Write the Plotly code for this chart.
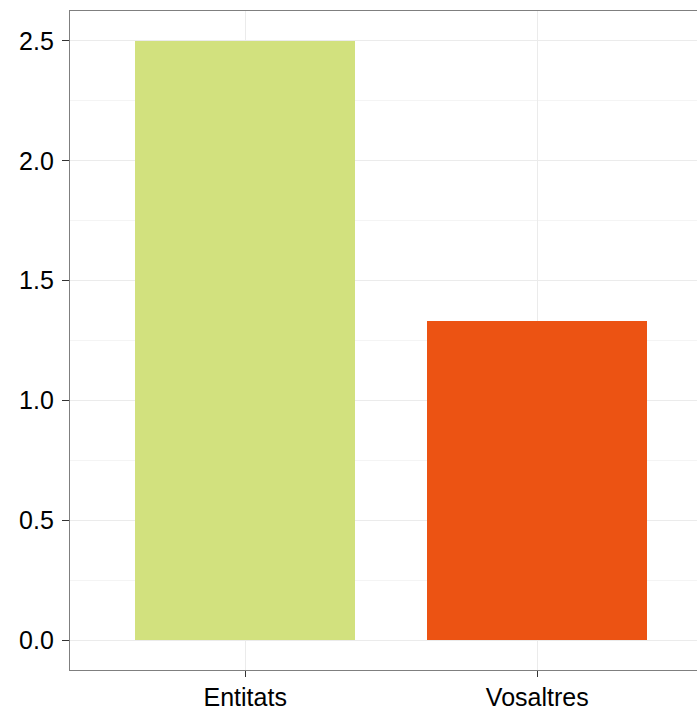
import plotly.graph_objects as go

categories = ["Entitats", "Vosaltres"]
values = [2.5, 1.3333]
bar_colors = ["#d2e17e", "#ec5313"]
y_tickvals = [0.0, 0.5, 1.0, 1.5, 2.0, 2.5]
y_ticktext = ["0.0", "0.5", "1.0", "1.5", "2.0", "2.5"]

fig = go.Figure()
fig.add_trace(go.Bar(
    x=categories, y=values,
    marker=dict(color=bar_colors, line=dict(width=0)),
    width=0.753,
    showlegend=False,
    hoverinfo="x+y",
))

font_family = "Liberation Sans, Arial, Helvetica, sans-serif"

fig.update_layout(
    width=697, height=710,
    margin=dict(l=70, r=0, t=11, b=40, pad=0),
    paper_bgcolor="white",
    plot_bgcolor="white",
    font=dict(family=font_family, size=25, color="#000000"),
    bargap=0,
)
fig.update_xaxes(
    type="category",
    range=[-0.6, 1.547],
    automargin=False,
    showline=True, linecolor="#7f7f7f", linewidth=1.3, mirror=True,
    showgrid=True, gridcolor="#ebebeb", gridwidth=1.1,
    ticks="outside", ticklen=6, tickcolor="#333333", tickwidth=1.2,
    tickfont=dict(size=25, color="#000000"),
    ticklabelstandoff=-1,
    zeroline=False,
    fixedrange=True,
)
fig.update_yaxes(
    range=[-0.125, 2.625],
    automargin=False,
    tickmode="array", tickvals=y_tickvals, ticktext=y_ticktext,
    showline=True, linecolor="#7f7f7f", linewidth=1.3, mirror=False,
    showgrid=True, gridcolor="#ebebeb", gridwidth=1.1,
    minor=dict(tickmode="linear", tick0=0.25, dtick=0.5, showgrid=True,
               gridcolor="#f4f4f4", gridwidth=1, ticks=""),
    ticks="outside", ticklen=7, tickcolor="#333333", tickwidth=1.2,
    tickfont=dict(size=25, color="#000000"),
    ticklabelstandoff=3,
    zeroline=False,
    fixedrange=True,
)

fig.write_html(
    "out.html",
    config={"displayModeBar": False},
    post_script="document.body.style.margin='0';document.body.style.overflow='hidden';",
)
